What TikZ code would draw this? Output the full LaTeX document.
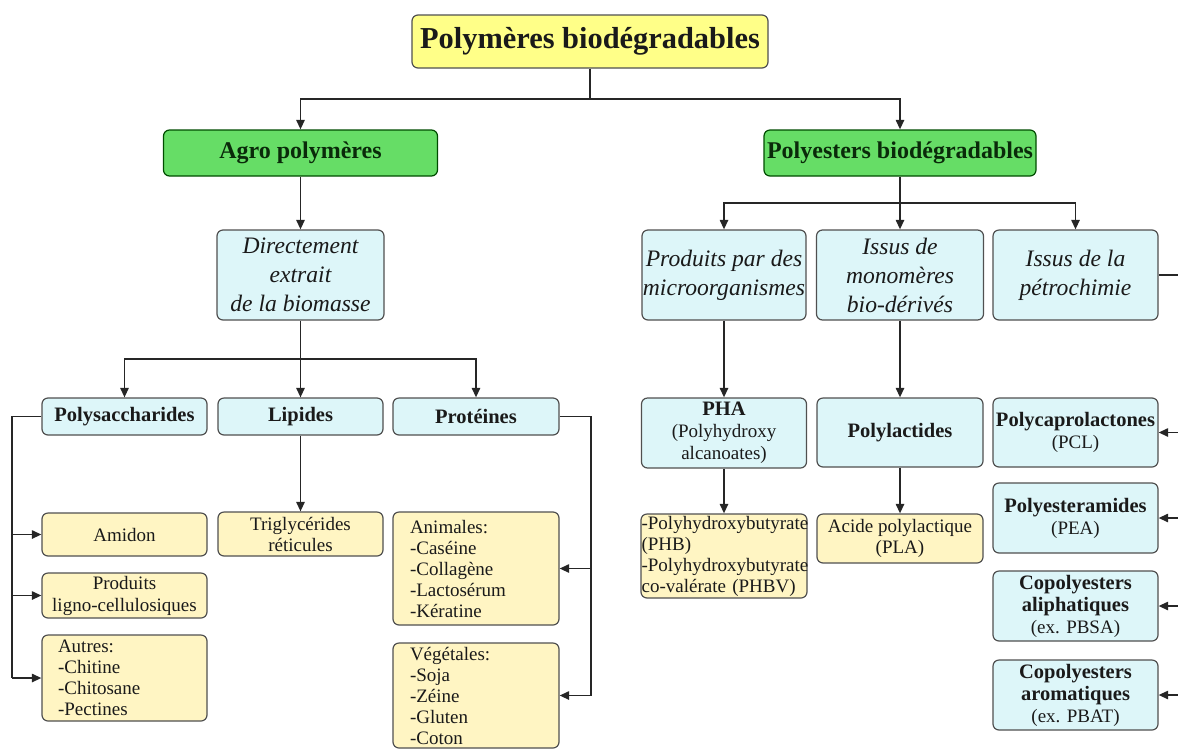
\documentclass[tikz,border=0pt]{standalone}
\usepackage{fontspec}
\setmainfont{Liberation Serif}
\usetikzlibrary{arrows.meta,calc}
\hyphenpenalty=10000
\exhyphenpenalty=10000
\definecolor{cyanf}{HTML}{DDF6F9}
\definecolor{yelf}{HTML}{FFF5C3}
\definecolor{titf}{HTML}{FFFF88}
\definecolor{greenf}{HTML}{66DD66}
\definecolor{edgec}{HTML}{505050}
\definecolor{txt}{HTML}{1A1A1A}
\definecolor{gtxt}{HTML}{0A2A0A}
\newcommand\myB{\fontsize{10.25}{11}\selectfont\bfseries}
\newcommand\myR{\fontsize{9.5}{10.5}\selectfont}
\newcommand\myRR{\fontsize{9.5}{11}\selectfont}
\newcommand\myI{\fontsize{11.8}{14.5}\selectfont\itshape}
\newcommand\myG{\fontsize{12}{14}\selectfont\bfseries}
\newcommand\myT{\fontsize{15.2}{18}\selectfont\bfseries}
\tikzset{
  box/.style 2 args={rectangle,rounded corners=3pt,draw=edgec,line width=0.6pt,inner sep=0pt,
    text=txt,align=center,minimum width=#1*0.5pt,minimum height=#2*0.5pt},
  cbox/.style={fill=cyanf},
  ybox/.style={fill=yelf},
  gbox/.style={fill=greenf,draw=green!30!black,text=gtxt,font=\myG},
  lbox/.style={align=left,inner xsep=#1,font=\myR},
  ln/.style={draw=black!85,line width=0.85pt},
  arr/.style={ln,-{Triangle[length=4.8pt,width=4.2pt]}}
}
\begin{document}
\begin{tikzpicture}[x=0.5pt,y=-0.5pt]
\useasboundingbox (0,0) rectangle (1178,751);
\clip (0,0) rectangle (1178,751);
% level 0-1
\node[box={356}{53},fill=titf,font=\myT] (title) at (590,41.5) {Polymères biodégradables};
\node[box={274}{46},gbox] (agro) at (300.5,153) {Agro polymères};
\node[box={272}{46},gbox] (polyest) at (900,153) {Polyesters biodégradables};
% level 2
\node[box={167}{90},cbox,font=\myI] (dir) at (300.5,275) {Directement\\extrait\\de la biomasse};
\node[box={164}{90},cbox,font=\myI] (micro) at (724,275) {Produits par des\\microorganismes};
\node[box={167}{90},cbox,font=\myI] (mono) at (900,275) {Issus de\\monomères\\bio-dérivés};
\node[box={165}{90},cbox,font=\myI] (petro) at (1075.5,275) {Issus de la\\pétrochimie};
% level 3
\node[box={165}{37},cbox,font=\myB] (polysac) at (124.5,416.5) {Polysaccharides};
\node[box={165}{37},cbox,font=\myB] (lipides) at (300.5,416.5) {Lipides};
\node[box={166}{37},cbox,font=\myB] (prot) at (476,416.5) {Protéines};
\node[box={165}{70},cbox,font=\myRR] (pha) at (724,433) {{\myB PHA}\\(Polyhydroxy\\alcanoates)};
\node[box={166}{69},cbox,font=\myB] (polylac) at (900,432.5) {Polylactides};
\node[box={165}{69},cbox,font=\myRR] (pcl) at (1075.5,432.5) {{\myB Polycaprolactones}\\(PCL)};
\node[box={165}{70},cbox,font=\myRR] (pea) at (1075.5,518) {{\myB Polyesteramides}\\(PEA)};
\node[box={165}{70},cbox,font=\myRR] (cpa) at (1075.5,606) {{\myB Copolyesters}\\{\myB aliphatiques}\\(ex. PBSA)};
\node[box={165}{70},cbox,font=\myRR] (cpr) at (1075.5,695) {{\myB Copolyesters}\\{\myB aromatiques}\\(ex. PBAT)};
% level 4
\node[box={165}{43},ybox,font=\myR] (amidon) at (124.5,534.5) {Amidon};
\node[box={165}{45},ybox,font=\myRR] (ligno) at (124.5,595.5) {Produits\\ligno-cellulosiques};
\node[box={165}{86},ybox,lbox=8pt,text width=66.5pt] (autres) at (124.5,678) {Autres:\\-Chitine\\-Chitosane\\-Pectines};
\node[box={165}{44},ybox,font=\myR] (trig) at (300.5,534) {Triglycérides\\réticules};
\node[box={166}{113},ybox,lbox=8.5pt,text width=66pt] (anim) at (476,568.5) {Animales:\\-Caséine\\-Collagène\\-Lactosérum\\-Kératine};
\node[box={166}{105},ybox,lbox=8.5pt,text width=66pt] (veg) at (476,695.5) {Végétales:\\-Soja\\-Zéine\\-Gluten\\-Coton};
\node[box={166}{84},ybox,lbox=0.3pt,text width=82.4pt] (phb) at (724,556) {-Polyhydroxybutyrate\\(PHB)\\-Polyhydroxybutyrate\\co-valérate (PHBV)};
\node[box={166}{49},ybox,font=\myR] (pla) at (900,538.5) {Acide polylactique\\(PLA)};
% connectors
\coordinate (j0) at (590,99);
\draw[ln] (title.south) -- (j0);
\draw[arr] (j0) -| (agro.north);
\draw[arr] (j0) -| (polyest.north);
\draw[arr] (agro) -- (dir);
\coordinate (j1) at (300.5,359);
\draw[arr] (dir) -- (lipides);
\draw[arr] (j1) -| (polysac.north);
\draw[arr] (j1) -| (prot.north);
\coordinate (pl) at (12,416.5);
\coordinate (plb) at (12,678);
\draw[ln] (polysac.west) -- (pl) -- (plb);
\draw[arr] (pl |- amidon.west) -- (amidon.west);
\draw[arr] (pl |- ligno.west) -- (ligno.west);
\draw[arr] (pl |- autres.west) -- (autres.west);
\draw[arr] (lipides) -- (trig);
\coordinate (pr) at (591,416.5);
\coordinate (prb) at (591,695.5);
\draw[ln] (prot.east) -- (pr) -- (prb);
\draw[arr] (pr |- anim.east) -- (anim.east);
\draw[arr] (pr |- veg.east) -- (veg.east);
\coordinate (j2) at (900,203);
\draw[ln] (polyest.south) -- (j2);
\draw[arr] (j2) -| (micro.north);
\draw[arr] (j2) -- (mono.north);
\draw[arr] (j2) -| (petro.north);
\draw[arr] (micro) -- (pha);
\draw[arr] (pha) -- (phb);
\draw[arr] (mono) -- (polylac);
\draw[arr] (polylac) -- (pla);
\coordinate (pe) at (1186,275);
\coordinate (peb) at (1186,695);
\draw[ln] (petro.east) -- (pe) -- (peb);
\draw[arr] (pe |- pcl.east) -- (pcl.east);
\draw[arr] (pe |- pea.east) -- (pea.east);
\draw[arr] (pe |- cpa.east) -- (cpa.east);
\draw[arr] (pe |- cpr.east) -- (cpr.east);
\end{tikzpicture}
\end{document}
